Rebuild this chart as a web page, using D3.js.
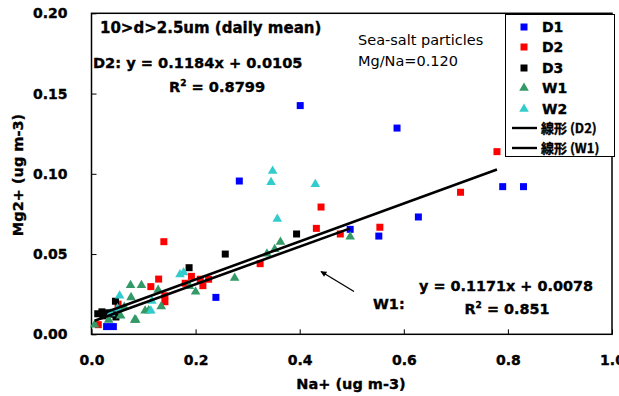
<!DOCTYPE html>
<html>
<head>
<meta charset="utf-8">
<script src="https://cdn.jsdelivr.net/npm/d3@7/dist/d3.min.js"></script>
<style>
  html, body { margin: 0; padding: 0; background: #fff; }
  svg { display: block; }
  text { fill: #000; }
  .heavy { stroke: #000; stroke-width: 0.35px; }
</style>
</head>
<body>
<svg id="chart" width="619" height="396"></svg>
<script>
// Coarse-mode (10 > d > 2.5 um) daily mean Na+ vs Mg2+ concentrations, ug m-3
const seriesNames = ["D1", "D2", "D3", "W1", "W2"];
const seriesColors = ["#0000ff", "#ff0000", "#000000", "#339966", "#33cccc"];
const seriesShapes = ["square", "square", "square", "triangle", "triangle"];

const d1 = [[0.401, 0.1425], [0.284, 0.0955], [0.587, 0.1285], [0.790, 0.092], [0.830, 0.092],
            [0.628, 0.0731], [0.552, 0.0612], [0.497, 0.0654], [0.239, 0.023], [0.029, 0.0048],
            [0.042, 0.0048]];
const d2 = [[0.779, 0.1138], [0.709, 0.0885], [0.554, 0.0667], [0.441, 0.0793], [0.432, 0.066],
            [0.478, 0.0625], [0.324, 0.044], [0.139, 0.0577], [0.129, 0.0344], [0.114, 0.0297],
            [0.141, 0.024], [0.141, 0.0203], [0.192, 0.0361], [0.209, 0.0343], [0.225, 0.0343],
            [0.180, 0.0318], [0.214, 0.0303], [0.051, 0.0188], [0.013, 0.0060]];
const d3data = [[0.394, 0.0625], [0.257, 0.050], [0.1875, 0.0415], [0.046, 0.0206],
                [0.012, 0.0128], [0.022, 0.0115], [0.031, 0.0134], [0.040, 0.0125],
                [0.047, 0.0108], [0.020, 0.0140]];
const w1 = [[0.497, 0.0608], [0.363, 0.0575], [0.352, 0.0530], [0.337, 0.0502], [0.275, 0.0351],
            [0.188, 0.0300], [0.200, 0.0265], [0.128, 0.0276], [0.134, 0.0174], [0.075, 0.0305],
            [0.096, 0.0305], [0.103, 0.0147], [0.110, 0.0148], [0.085, 0.0089], [0.076, 0.0230],
            [0.056, 0.0115], [0.063, 0.0170], [0.006, 0.0059], [0.033, 0.0090], [0.083, 0.0090]];
const w2 = [[0.348, 0.1017], [0.345, 0.0947], [0.430, 0.0935], [0.357, 0.0718], [0.170, 0.0372],
            [0.177, 0.0385], [0.116, 0.0207], [0.114, 0.0147], [0.054, 0.0240], [0.050, 0.0160],
            [0.037, 0.0130]];
const seriesValues = [d1, d2, d3data, w1, w2];

// Linear fits of D2 and W1
const fitNames = ["D2", "W1"];
const fitSlopes = [0.1184, 0.1171];
const fitIntercepts = [0.0105, 0.0078];
const fitR2 = ["0.8799", "0.851"];
const fitRanges = [[0.013, 0.779], [0.006, 0.497]];

const xTicks = [0, 0.2, 0.4, 0.6, 0.8, 1.0];
const yTicks = [0, 0.05, 0.10, 0.15, 0.20];

const svg = d3.select("#chart");
const plot = { left: 91.5, top: 13.3, right: 612, bottom: 334.3 };

const x = d3.scaleLinear().domain([0, 1]).range([plot.left, plot.right]);
const y = d3.scaleLinear().domain([0, 0.2]).range([plot.bottom, plot.top]);

const boldFont = "'DejaVu Sans', sans-serif";

// Axes with inward ticks
const xAxis = d3.axisBottom(x).tickValues(xTicks).tickFormat(d3.format(".1f"))
  .tickSizeInner(-5).tickSizeOuter(0).tickPadding(21);
const yAxis = d3.axisLeft(y).tickValues(yTicks).tickFormat(d3.format(".2f"))
  .tickSizeInner(-5).tickSizeOuter(0).tickPadding(24);

const gx = svg.append("g").attr("transform", `translate(0,${plot.bottom})`).call(xAxis);
const gy = svg.append("g").attr("transform", `translate(${plot.left},0)`).call(yAxis);
[gx, gy].forEach(g => {
  g.select(".domain").remove();
  g.selectAll(".tick line").attr("stroke", "#000").attr("stroke-width", 1);
  g.selectAll(".tick text")
    .attr("class", "heavy")
    .attr("font-family", boldFont).attr("font-weight", "bold")
    .attr("font-size", 14).attr("fill", "#000");
});

// Plot frame
svg.append("rect")
  .attr("x", plot.left).attr("y", plot.top)
  .attr("width", plot.right - plot.left).attr("height", plot.bottom - plot.top)
  .attr("fill", "none").attr("stroke", "#000").attr("stroke-width", 1.5);

// Axis titles
svg.append("text")
  .attr("class", "heavy")
  .attr("x", 351).attr("y", 389)
  .attr("text-anchor", "middle")
  .attr("font-family", boldFont).attr("font-weight", "bold").attr("font-size", 14.5)
  .text("Na+ (ug m-3)");
svg.append("text")
  .attr("class", "heavy")
  .attr("transform", "translate(23,175) rotate(-90)")
  .attr("text-anchor", "middle")
  .attr("font-family", boldFont).attr("font-weight", "bold").attr("font-size", 14.5)
  .text("Mg2+ (ug m-3)");

// Markers
const symbolFor = shape => shape === "square"
  ? d3.symbol().type(d3.symbolSquare).size(49)
  : d3.symbol().type(d3.symbolTriangle).size(40);

seriesValues.forEach((vals, i) => {
  svg.append("g").selectAll("path")
    .data(vals)
    .join("path")
    .attr("d", symbolFor(seriesShapes[i]))
    .attr("transform", d => `translate(${x(d[0])},${y(d[1])})`)
    .attr("fill", seriesColors[i]);
});

// Trend lines
fitNames.forEach((name, i) => {
  const [x0, x1] = fitRanges[i];
  const f = v => fitSlopes[i] * v + fitIntercepts[i];
  svg.append("line")
    .attr("x1", x(x0)).attr("y1", y(f(x0)))
    .attr("x2", x(x1)).attr("y2", y(f(x1)))
    .attr("stroke", "#000").attr("stroke-width", 2.6);
});

// Text annotations
function boldText(tx, ty, str, size, anchor) {
  return svg.append("text").attr("x", tx).attr("y", ty)
    .attr("class", "heavy")
    .attr("text-anchor", anchor || "start")
    .attr("font-family", boldFont).attr("font-weight", "bold")
    .attr("font-size", size || 14).text(str);
}
boldText(100, 33, "10>d>2.5um (daily mean)", 15);
boldText(93, 68, `D2: y = ${fitSlopes[0]}x + ${fitIntercepts[0]}`, 14.6);
const r2a = boldText(217, 92, "", 14.6, "middle");
r2a.append("tspan").text("R");
r2a.append("tspan").attr("dy", -6).attr("font-size", 9).text("2");
r2a.append("tspan").attr("dy", 6).text(` = ${fitR2[0]}`);

boldText(506, 291, `y = ${fitSlopes[1]}x + 0.00${Math.round(fitIntercepts[1] * 10000)}`, 14.4, "middle");
const r2b = boldText(507, 314, "", 14.4, "middle");
r2b.append("tspan").text("R");
r2b.append("tspan").attr("dy", -6).attr("font-size", 9).text("2");
r2b.append("tspan").attr("dy", 6).text(` = ${fitR2[1]}`);
boldText(373, 309, "W1:", 14.4);

svg.append("text").attr("x", 358).attr("y", 45)
  .attr("font-family", "'DejaVu Sans', sans-serif").attr("font-size", 14.5)
  .text("Sea-salt particles");
svg.append("text").attr("x", 358).attr("y", 66)
  .attr("font-family", "'DejaVu Sans', sans-serif").attr("font-size", 14.5)
  .text("Mg/Na=0.120");

// Arrow pointing at the W1 fit
svg.append("defs").append("marker")
  .attr("id", "arrowhead").attr("viewBox", "0 0 10 10")
  .attr("refX", 9).attr("refY", 5)
  .attr("markerWidth", 7).attr("markerHeight", 6)
  .attr("markerUnits", "userSpaceOnUse")
  .attr("orient", "auto")
  .append("path").attr("d", "M0,0 L10,5 L0,10 z").attr("fill", "#000");
svg.append("line")
  .attr("x1", 354).attr("y1", 291.5).attr("x2", 321).attr("y2", 271.5)
  .attr("stroke", "#000").attr("stroke-width", 1.3)
  .attr("marker-end", "url(#arrowhead)");

// Legend
const legend = svg.append("g");
legend.append("rect")
  .attr("x", 505.5).attr("y", 14.5).attr("width", 109).attr("height", 142)
  .attr("fill", "#fff").attr("stroke", "#000").attr("stroke-width", 1);
const legendY = [27, 47, 68, 88, 109];
seriesNames.forEach((name, i) => {
  legend.append("path")
    .attr("d", symbolFor(seriesShapes[i]))
    .attr("transform", `translate(524,${legendY[i]})`)
    .attr("fill", seriesColors[i]);
  legend.append("text")
    .attr("class", "heavy")
    .attr("x", 542).attr("y", legendY[i] + 5)
    .attr("font-family", boldFont).attr("font-weight", "bold").attr("font-size", 14)
    .text(name);
});
const lineY = [128, 148];
fitNames.forEach((name, i) => {
  legend.append("line")
    .attr("x1", 512).attr("x2", 537).attr("y1", lineY[i]).attr("y2", lineY[i])
    .attr("stroke", "#000").attr("stroke-width", 2.4);
  legend.append("text")
    .attr("class", "heavy")
    .attr("x", 541).attr("y", lineY[i] + 5)
    .attr("font-family", "'Noto Sans CJK JP', sans-serif").attr("font-weight", "bold")
    .attr("font-size", 13)
    .text(`線形 (${name})`);
});
</script>
</body>
</html>
